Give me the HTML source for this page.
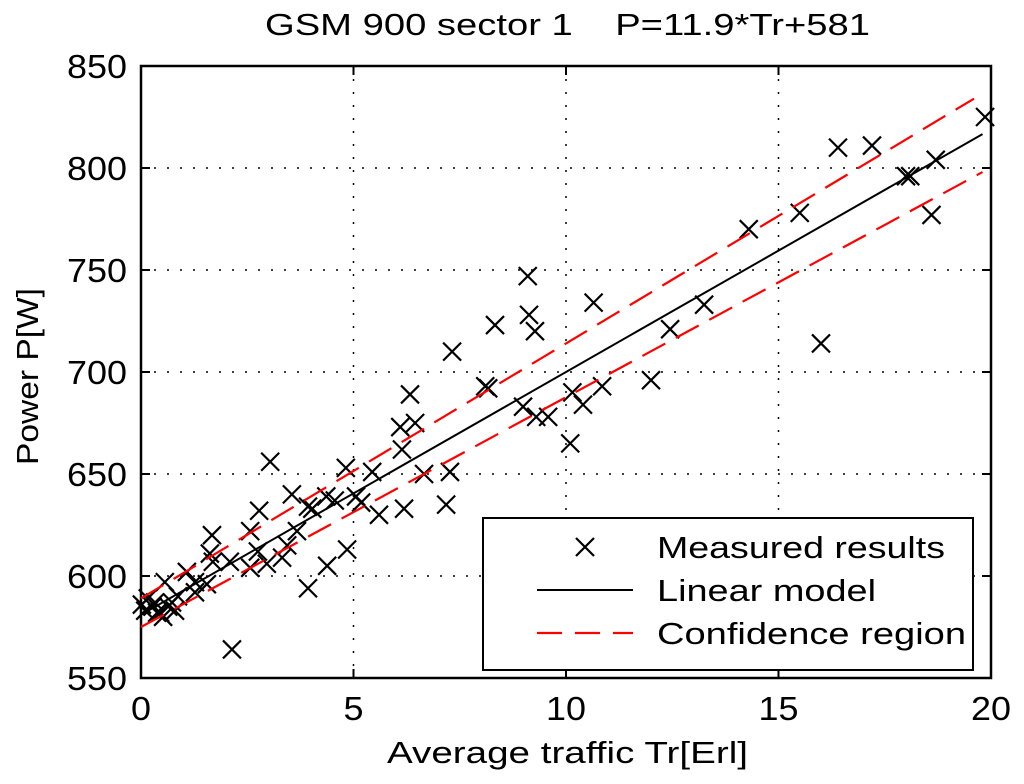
<!DOCTYPE html>
<html><head><meta charset="utf-8"><style>
body{margin:0;background:#fff;}
svg text{font-family:"Liberation Sans",Arial,sans-serif;fill:#000;}
</style></head><body>
<svg id="chart" width="1024" height="779" xmlns="http://www.w3.org/2000/svg">
<text x="265" y="35" style="font-size:31px" textLength="605" lengthAdjust="spacingAndGlyphs" xml:space="preserve">GSM 900 sector 1    P=11.9*Tr+581</text>
<text x="387" y="763" style="font-size:31px" textLength="361" lengthAdjust="spacingAndGlyphs">Average traffic Tr[Erl]</text>
<text x="38" y="465" style="font-size:31px" textLength="177" lengthAdjust="spacingAndGlyphs" transform="rotate(-90 38 465)">Power P[W]</text>
<g id="grid"></g>
<g id="axes"></g>
<g id="series"></g>
<g>
<rect x="483" y="518" width="490" height="152" fill="#fff" stroke="#000" stroke-width="2"/>
<g>
<path d="M576 538 L594 556 M594 538 L576 556" stroke="#000" stroke-width="2.2"/>
<text x="657" y="558" style="font-size:31px" textLength="288" lengthAdjust="spacingAndGlyphs">Measured results</text></g>
<g>
<line x1="537" y1="590" x2="633" y2="590" stroke="#000" stroke-width="2"/>
<text x="657" y="601" style="font-size:31px" textLength="219" lengthAdjust="spacingAndGlyphs">Linear model</text></g>
<g>
<path d="M537 633 H562 M575 633 H600 M613 633 H633" stroke="#f00" stroke-width="2.2"/>
<text x="657" y="644" style="font-size:31px" textLength="309" lengthAdjust="spacingAndGlyphs">Confidence region</text></g>
</g>
</svg>
<script>
const xTicks=[0,5,10,15,20];
const yTicks=[550,600,650,700,750,800,850];
const trafficX=[19.86,18.6,18.7,18.0,18.1,17.2,16.4,16.0,15.5,14.3,13.25,12.45,12.0,10.85,10.4,10.15,10.1,10.65,9.58,9.3,8.99,9.27,9.13,9.1,8.33,8.1,8.17,7.32,7.27,7.18,3.04,2.14,3.93,4.38,4.85,4.82,5.44,6.66,6.19,5.6,5.18,5.06,6.14,6.1,6.45,6.33,4.36,3.93,4.03,3.55,4.56,2.78,2.57,3.67,2.75,3.44,3.32,2.57,2.96,2.09,1.67,1.62,1.69,1.55,1.27,1.08,1.27,0.56,0.8,0.64,0.45,0.27,0.1,0.02,0.33,0.52,0.73,0.16,0.87,0.38];
const powerY=[825,777,804,796,796,811,810,714,778,770,733,721,696,693,684,690,665,734,678,678,683,720,728,747,723,693,692,710,651,635,656,564,594,605,613,653,651,650,633,630,636,639,662,673,675,689,639,634,633,640,637,632,622,622,612,615,609,604,606,607,620,611,607,596,597,602,592,597,583,585,582,585,583,586,587,580,587,589,590,582];
const modelSlope=11.9, modelIntercept=581;
const upperEnds=[[0,589],[19.6,834]];
const lowerEnds=[[0,575],[19.8,798]];
const modelRange=[0,19.8];
const L=141,R=991,T=66,B=678;
const sx=v=>L+(v-0)/(20-0)*(R-L);
const sy=v=>B-(v-550)/(850-550)*(B-T);
const NS="http://www.w3.org/2000/svg";
function mk(tag,attrs,parent){const e=document.createElementNS(NS,tag);for(const k in attrs)e.setAttribute(k,attrs[k]);parent.appendChild(e);return e;}
const grid=document.getElementById('grid'),axes=document.getElementById('axes'),series=document.getElementById('series');
xTicks.forEach(t=>{
 if(t>0&&t<20){const g=mk('line',{x1:sx(t),x2:sx(t),y1:T,y2:B,stroke:'#000','stroke-width':1.5,'stroke-dasharray':'2 11'},grid);
 
 }
 mk('line',{x1:sx(t),x2:sx(t),y1:B,y2:B-9,stroke:'#000','stroke-width':2},axes);
 mk('line',{x1:sx(t),x2:sx(t),y1:T,y2:T+9,stroke:'#000','stroke-width':2},axes);
 const s=String(t);
 const tx=mk('text',{x:sx(t),y:B+42,style:'font-size:33px','text-anchor':'middle',textLength:20*s.length,lengthAdjust:'spacingAndGlyphs'},axes);tx.textContent=s;
 
 
});
yTicks.forEach(t=>{
 if(t>550&&t<850){const g=mk('line',{x1:L,x2:R,y1:sy(t),y2:sy(t),stroke:'#000','stroke-width':1.5,'stroke-dasharray':'2 11'},grid);
 
 }
 mk('line',{x1:L,x2:L+9,y1:sy(t),y2:sy(t),stroke:'#000','stroke-width':2},axes);
 mk('line',{x1:R,x2:R-9,y1:sy(t),y2:sy(t),stroke:'#000','stroke-width':2},axes);
 const tx=mk('text',{x:L-14,y:sy(t)+12,style:'font-size:33px','text-anchor':'end',textLength:60,lengthAdjust:'spacingAndGlyphs'},axes);tx.textContent=t;
 
 
});
mk('rect',{x:L,y:T,width:R-L,height:B-T,fill:'none',stroke:'#000','stroke-width':2.5},axes);
trafficX.forEach((x,i)=>{const cx=sx(x),cy=sy(powerY[i]),d=9;
 const p=mk('path',{d:`M${cx-d} ${cy-d} L${cx+d} ${cy+d} M${cx+d} ${cy-d} L${cx-d} ${cy+d}`,stroke:'#000','stroke-width':2.2,fill:'none'},series);
 
 });
const lm=mk('line',{x1:sx(modelRange[0]),y1:sy(modelIntercept+modelSlope*modelRange[0]),x2:sx(modelRange[1]),y2:sy(modelIntercept+modelSlope*modelRange[1]),stroke:'#000','stroke-width':2},series);


[upperEnds,lowerEnds].forEach((e,i)=>{const c=mk('line',{x1:sx(e[0][0]),y1:sy(e[0][1]),x2:sx(e[1][0]),y2:sy(e[1][1]),stroke:'#f00','stroke-width':2.2,'stroke-dasharray':'26 12'},series);
 
 });
</script>
</body></html>
